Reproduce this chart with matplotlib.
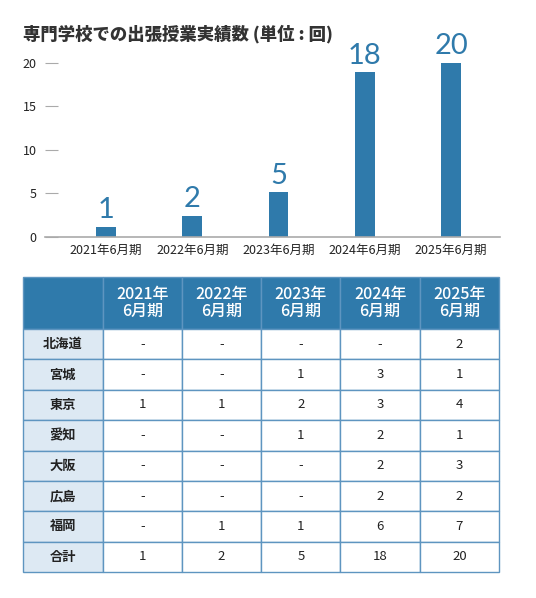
import matplotlib
matplotlib.use("Agg")
from matplotlib import pyplot as plt

plt.rcParams['font.family'] = ['Noto Sans CJK JP', 'DejaVu Sans']

# data
periods = ["2021年6月期", "2022年6月期", "2023年6月期", "2024年6月期", "2025年6月期"]
totals = [1, 2, 5, 18, 20]
bar_heights = [1.15, 2.4, 5.1, 18.9, 20]   # bars as drawn in the picture
yticks = [0, 5, 10, 15, 20]

col_heads = ["2021年\n6月期", "2022年\n6月期", "2023年\n6月期", "2024年\n6月期", "2025年\n6月期"]
regions = ["北海道", "宮城", "東京", "愛知", "大阪", "広島", "福岡", "合計"]
hokkaido = ["-", "-", "-", "-", "2"]
miyagi = ["-", "-", "1", "3", "1"]
tokyo = ["1", "1", "2", "3", "4"]
aichi = ["-", "-", "1", "2", "1"]
osaka = ["-", "-", "-", "2", "3"]
hiroshima = ["-", "-", "-", "2", "2"]
fukuoka = ["-", "1", "1", "6", "7"]
total_row = [str(v) for v in totals]

blue = "#2f7aab"
light = "#dde9f3"
edge = "#5e95c0"

W, H = 536, 598
fig = plt.figure(figsize=(W / 100, H / 100), dpi=100)

fig.text(23 / W, 1 - 34 / H, "専門学校での出張授業実績数 (単位 : 回)", fontsize=12.5,
         fontweight="heavy", color="#333333", va="center", ha="left")

# bar chart
ax = fig.add_axes([45 / W, 1 - 236.7 / H, 455 / W, 174 / H])
x = list(range(len(periods)))
ax.bar(x, bar_heights, width=0.23, color=blue)
for xi, h, t in zip(x, bar_heights, totals):
    ax.annotate(str(t), (xi, h), xytext=(0, 2.5), textcoords="offset points",
                ha="center", va="bottom", fontsize=21, color=blue,
                family=["Lato", "DejaVu Sans"], fontweight="normal", clip_on=False)
ax.set_xlim(-0.707, 4.568)
ax.set_ylim(0, 20)
ax.set_yticks(yticks)
ax.set_xticks(x)
ax.set_xticklabels(periods)
for s in ["top", "right", "left"]:
    ax.spines[s].set_visible(False)
ax.spines["bottom"].set_color("#aaaaaa")
ax.spines["bottom"].set_linewidth(1.2)
ax.tick_params(axis="y", direction="in", length=9.5, width=0.8, color="#aaaaaa",
               pad=6, labelsize=9, labelcolor="#222222")
ax.tick_params(axis="x", length=0, pad=5, labelsize=9, labelcolor="#222222")
ax.set_facecolor("none")

# table
tax = fig.add_axes([22.7 / W, 26 / H, 476.3 / W, 295 / H])
tax.axis("off")
rows = [hokkaido, miyagi, tokyo, aichi, osaka, hiroshima, fukuoka, total_row]
cell_text = [[""] + col_heads] + [[r] + vals for r, vals in zip(regions, rows)]
first_w = 80 / 476.3
other_w = (1 - first_w) / len(col_heads)
tbl = tax.table(cellText=cell_text, cellLoc="center", bbox=[0, 0, 1, 1],
                colWidths=[first_w] + [other_w] * len(col_heads))
tbl.auto_set_font_size(False)
head_h = 52 / 295
row_h = (1 - head_h) / len(regions)
for (r, c), cell in tbl.get_celld().items():
    cell.set_edgecolor(edge)
    cell.set_linewidth(1.0)
    cell.set_height(head_h if r == 0 else row_h)
    txt = cell.get_text()
    if r == 0:
        cell.set_facecolor(blue)
        txt.set_color("white")
        txt.set_fontsize(11.5)
        txt.set_fontweight("medium")
        txt.set_linespacing(1.0)
    elif c == 0:
        cell.set_facecolor(light)
        txt.set_color("#222222")
        txt.set_fontsize(9.5)
        txt.set_fontweight("bold")
    else:
        cell.set_facecolor("white")
        txt.set_color("#222222")
        txt.set_fontsize(9.5)

fig.savefig("out.png", dpi=100)
